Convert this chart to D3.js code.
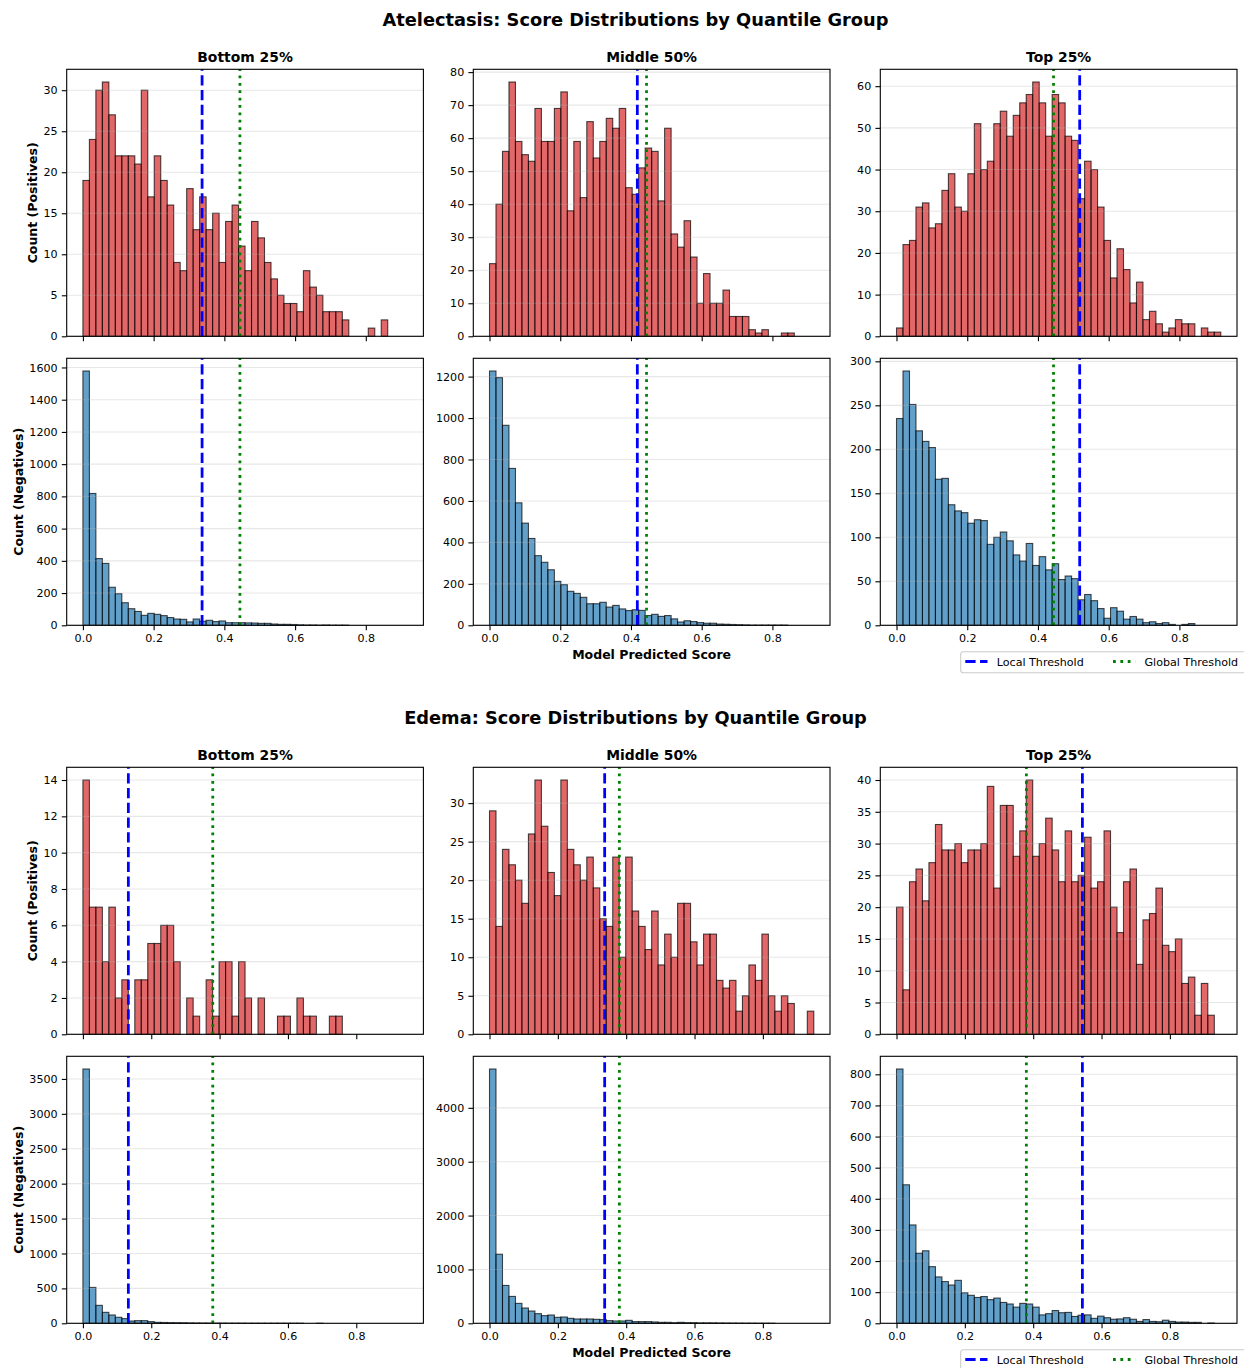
<!DOCTYPE html>
<html>
<head>
<meta charset="utf-8">
<script src="https://cdn.jsdelivr.net/npm/d3@7"></script>
<style>
    body { margin: 0; background: #fff; }
    svg { display: block; font-family: "DejaVu Sans", sans-serif; }
</style>
</head>
<body>
<div id="chart"></div>
<script>
    var width = 1244, height = 1368;

    // ---- data ----
    var diseases = ["Atelectasis", "Edema"];
    var groups = ["Bottom 25%", "Middle 50%", "Top 25%"];
    var scoreMax = [0.917, 0.949];   // histogram range 0..max, 50 bins
    var nBins = 50;
    var localThreshold = [[0.337, 0.418, 0.518], [0.133, 0.337, 0.544]];
    var globalThreshold = [0.444, 0.380];
    var xTicks = [0, 0.2, 0.4, 0.6, 0.8];

    var atelectasisPos = [
        [19, 24, 30, 31, 27, 22, 22, 22, 21, 30, 17, 22, 19, 16, 9, 8, 18, 13, 17, 13, 15, 9, 14, 16, 11, 8, 14, 12, 9, 7, 5, 4, 4, 3, 8, 6, 5, 3, 3, 3, 2, 0, 0, 0, 1, 0, 2, 0, 0, 0],
        [22, 40, 56, 77, 59, 55, 53, 69, 59, 59, 69, 74, 38, 59, 42, 65, 54, 59, 66, 63, 69, 45, 43, 51, 57, 56, 41, 63, 31, 27, 35, 24, 10, 19, 10, 10, 14, 6, 6, 6, 2, 1, 2, 0, 0, 1, 1, 0, 0, 0],
        [2, 22, 23, 31, 32, 26, 27, 35, 39, 31, 30, 39, 51, 40, 42, 51, 54, 48, 53, 56, 58, 61, 56, 48, 58, 56, 48, 47, 33, 42, 40, 31, 23, 14, 21, 16, 8, 13, 4, 6, 3, 1, 2, 4, 3, 3, 0, 2, 1, 1]
    ];
    var atelectasisNeg = [
        [1578, 818, 414, 384, 236, 196, 140, 103, 86, 62, 74, 68, 60, 48, 39, 37, 21, 39, 25, 31, 23, 27, 16, 16, 16, 15, 14, 12, 12, 8, 6, 6, 5, 3, 2, 2, 1, 2, 1, 1, 1, 0, 0, 0, 0, 0, 0, 0, 0, 0],
        [1227, 1195, 965, 757, 591, 493, 419, 336, 304, 268, 212, 196, 164, 154, 135, 104, 104, 111, 88, 96, 79, 71, 75, 72, 47, 53, 43, 47, 31, 16, 22, 18, 13, 10, 10, 6, 5, 4, 3, 2, 1, 1, 1, 1, 1, 1, 0, 0, 0, 0],
        [235, 289, 251, 221, 209, 202, 166, 167, 137, 130, 128, 116, 120, 119, 92, 100, 106, 96, 80, 73, 93, 68, 78, 63, 70, 52, 56, 53, 29, 35, 28, 19, 8, 20, 16, 7, 10, 7, 3, 4, 2, 3, 1, 0, 1, 2, 0, 0, 0, 0]
    ];
    var edemaPos = [
        [14, 7, 7, 4, 7, 2, 3, 0, 3, 3, 5, 5, 6, 6, 4, 0, 2, 1, 0, 3, 1, 4, 4, 1, 4, 2, 0, 2, 0, 0, 1, 1, 0, 2, 1, 1, 0, 0, 1, 1, 0, 0, 0, 0, 0, 0, 0, 0, 0, 0],
        [29, 14, 24, 22, 20, 17, 26, 33, 27, 21, 18, 33, 24, 22, 20, 23, 19, 15, 14, 23, 10, 23, 16, 14, 11, 16, 9, 13, 10, 17, 17, 12, 9, 13, 13, 7, 6, 7, 3, 5, 9, 7, 13, 5, 3, 5, 4, 0, 0, 3],
        [20, 7, 24, 26, 21, 27, 33, 29, 29, 30, 27, 29, 29, 30, 39, 23, 36, 36, 28, 32, 40, 28, 30, 34, 29, 24, 32, 24, 25, 31, 23, 24, 32, 20, 16, 24, 26, 11, 18, 19, 23, 14, 13, 15, 8, 9, 3, 8, 3, 0]
    ];
    var edemaNeg = [
        [3642, 514, 257, 157, 119, 86, 67, 33, 38, 38, 24, 14, 12, 10, 9, 8, 6, 5, 4, 4, 3, 3, 2, 2, 2, 1, 1, 1, 1, 1, 1, 1, 1, 1, 0, 0, 1, 0, 0, 0, 0, 0, 0, 0, 0, 0, 0, 0, 0, 0],
        [4721, 1282, 703, 499, 370, 284, 228, 179, 142, 154, 111, 117, 92, 80, 80, 80, 74, 68, 49, 43, 43, 55, 31, 31, 31, 25, 18, 18, 12, 18, 12, 12, 8, 8, 8, 6, 5, 4, 3, 2, 2, 1, 1, 1, 0, 0, 0, 0, 0, 0],
        [817, 445, 316, 225, 233, 182, 149, 134, 123, 138, 98, 90, 83, 86, 76, 81, 67, 62, 52, 64, 62, 52, 27, 31, 41, 34, 35, 22, 26, 27, 16, 23, 18, 13, 14, 18, 13, 6, 12, 6, 5, 10, 6, 4, 4, 3, 3, 0, 1, 0]
    ];
    var posTickStep = [[5, 10, 10], [2, 5, 5]];
    var negTickStep = [[200, 200, 50], [500, 1000, 100]];

    var counts = [[atelectasisPos, atelectasisNeg], [edemaPos, edemaNeg]];
    var tickSteps = [[posTickStep[0], negTickStep[0]], [posTickStep[1], negTickStep[1]]];
    var rowLabels = ["Count (Positives)", "Count (Negatives)"];
    var barColors = ["#d62728", "#1f77b4"];

    // ---- layout ----
    var sectionOffset = 698;
    var colLeft = [66.7, 473.3, 880.3], axW = 356.7;
    var rowTop = [69.3, 358.3], axH = 267;

    var svg = d3.select("#chart").append("svg")
        .attr("width", width)
        .attr("height", height);

    svg.append("rect").attr("width", width).attr("height", height).attr("fill", "#fff");

    diseases.forEach(function(disease, s) {
        var off = s * sectionOffset;

        svg.append("text")
            .attr("x", 635.5).attr("y", off + 25.5)
            .attr("text-anchor", "middle")
            .style("font-size", "17.8px").style("font-weight", "bold")
            .text(disease + ": Score Distributions by Quantile Group");

        groups.forEach(function(group, c) {
            var left = colLeft[c];
            var R = scoreMax[s], binW = R / nBins;
            var x = d3.scaleLinear().domain([-0.05 * R, 1.05 * R]).range([left, left + axW]);

            [0, 1].forEach(function(r) {
                var top = off + rowTop[r], bottom = top + axH;
                var data = counts[s][r][c];
                var ymax = d3.max(data) * 1.05;
                var y = d3.scaleLinear().domain([0, ymax]).range([bottom, top]);
                var step = tickSteps[s][r][c];
                var yTicks = d3.range(0, ymax + 1e-9, step);

                var g = svg.append("g");

                /* ------- bars ------- */
                g.append("g").selectAll("rect")
                    .data(data)
                    .join("rect")
                    .attr("x", function(d, i) { return x(i * binW); })
                    .attr("width", function(d, i) { return x((i + 1) * binW) - x(i * binW); })
                    .attr("y", function(d) { return y(d); })
                    .attr("height", function(d) { return y(0) - y(d); })
                    .attr("fill", barColors[r]).attr("fill-opacity", 0.7)
                    .attr("stroke", "#000").attr("stroke-opacity", 0.7)
                    .attr("stroke-width", 1.1);

                /* ------- grid ------- */
                g.append("g").selectAll("line")
                    .data(yTicks)
                    .join("line")
                    .attr("x1", left).attr("x2", left + axW)
                    .attr("y1", function(d) { return y(d); })
                    .attr("y2", function(d) { return y(d); })
                    .attr("stroke", "#b0b0b0").attr("stroke-opacity", 0.3)
                    .attr("stroke-width", 1.1);

                /* ------- thresholds ------- */
                g.append("line")
                    .attr("x1", x(localThreshold[s][c])).attr("x2", x(localThreshold[s][c]))
                    .attr("y1", bottom).attr("y2", top)
                    .attr("stroke", "#0000ff").attr("stroke-width", 2.78)
                    .attr("stroke-dasharray", "10.3,4.45");
                g.append("line")
                    .attr("x1", x(globalThreshold[s])).attr("x2", x(globalThreshold[s]))
                    .attr("y1", bottom).attr("y2", top)
                    .attr("stroke", "#008000").attr("stroke-width", 2.78)
                    .attr("stroke-dasharray", "2.78,4.59");

                /* ------- axes ------- */
                var xAxis = d3.axisBottom(x).tickValues(xTicks).tickSize(4.9).tickPadding(4.2)
                    .tickFormat(r === 1 ? d3.format(".1f") : function() { return ""; });
                var gx = g.append("g").attr("transform", "translate(0," + bottom + ")").call(xAxis);
                var yAxis = d3.axisLeft(y).tickValues(yTicks).tickSize(4.9).tickPadding(4.2)
                    .tickFormat(d3.format("d"));
                var gy = g.append("g").attr("transform", "translate(" + left + ",0)").call(yAxis);
                [gx, gy].forEach(function(a) {
                    a.select(".domain").remove();
                    a.selectAll("line").attr("stroke", "#000").attr("stroke-width", 1.1);
                    a.selectAll("text").attr("fill", "#000")
                        .style("font-size", "11.1px").style("font-family", "DejaVu Sans");
                });

                g.append("rect")
                    .attr("x", left).attr("y", top).attr("width", axW).attr("height", axH)
                    .attr("fill", "none").attr("stroke", "#000").attr("stroke-width", 1.1);

                if (r === 0) {
                    g.append("text")
                        .attr("x", left + axW / 2).attr("y", top - 7)
                        .attr("text-anchor", "middle")
                        .style("font-size", "13.9px").style("font-weight", "bold")
                        .text(group);
                }
                if (c === 0) {
                    // bbox is in the axis group's own coords, so add its offset
                    var bb = gy.node().getBBox();
                    var lx = left + bb.x - 6.5;
                    g.append("text")
                        .attr("transform", "translate(" + lx + "," + (top + axH / 2) + ") rotate(-90)")
                        .attr("text-anchor", "middle")
                        .style("font-size", "12.5px").style("font-weight", "bold")
                        .text(rowLabels[r]);
                }
                if (r === 1 && c === 1) {
                    g.append("text")
                        .attr("x", left + axW / 2).attr("y", bottom + 34)
                        .attr("text-anchor", "middle")
                        .style("font-size", "12.5px").style("font-weight", "bold")
                        .text("Model Predicted Score");
                }
                if (r === 1 && c === 2) {
                    var ly = bottom + 26.4;
                    var lg = svg.append("g");
                    lg.append("rect")
                        .attr("x", 960.7).attr("y", ly).attr("width", 320).attr("height", 21)
                        .attr("rx", 2.8)
                        .attr("fill", "#fff").attr("fill-opacity", 0.8)
                        .attr("stroke", "#cccccc").attr("stroke-width", 1.1);
                    var items = [
                        { label: "Local Threshold", color: "#0000ff", dash: "10.3,4.45", x0: 965.3 },
                        { label: "Global Threshold", color: "#008000", dash: "2.78,4.59", x0: 1113 }
                    ];
                    items.forEach(function(it) {
                        lg.append("line")
                            .attr("x1", it.x0).attr("x2", it.x0 + 22.2)
                            .attr("y1", ly + 9.8).attr("y2", ly + 9.8)
                            .attr("stroke", it.color).attr("stroke-width", 2.78)
                            .attr("stroke-dasharray", it.dash);
                        lg.append("text")
                            .attr("x", it.x0 + 31.5).attr("y", ly + 13.8)
                            .style("font-size", "11.1px")
                            .text(it.label);
                    });
                }
            });
        });
    });
</script>
</body>
</html>
